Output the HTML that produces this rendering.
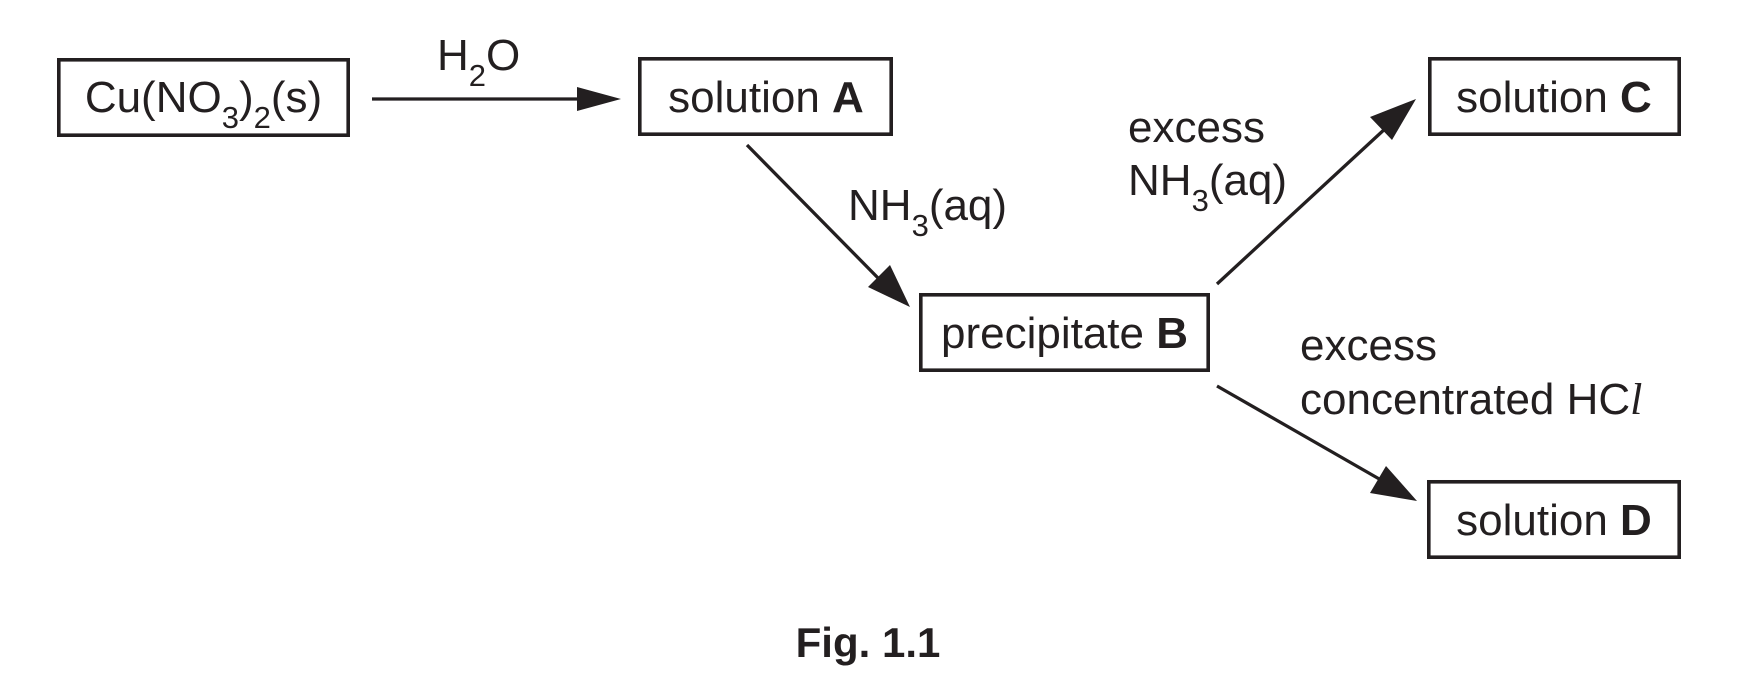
<!DOCTYPE html>
<html>
<head>
<meta charset="utf-8">
<style>
html,body{margin:0;padding:0;background:#fff;}
svg{display:block;}
text{font-family:"Liberation Sans",Arial,sans-serif;fill:#231f20;}
</style>
</head>
<body>
<svg width="1756" height="696" viewBox="0 0 1756 696" xmlns="http://www.w3.org/2000/svg">
<rect width="1756" height="696" fill="#fff"/>
<g fill="none" stroke="#231f20" stroke-width="3.6">
  <rect x="58.8" y="59.8" width="289.4" height="75.4"/>
  <rect x="639.8" y="58.8" width="251.4" height="75.4"/>
  <rect x="920.8" y="294.8" width="287.4" height="75.4"/>
  <rect x="1429.8" y="58.8" width="249.4" height="75.4"/>
  <rect x="1428.8" y="481.8" width="250.4" height="75.4"/>
</g>
<g stroke="#231f20" stroke-width="3.3" fill="none">
  <line x1="372" y1="99" x2="580" y2="99"/>
  <line x1="747" y1="145" x2="880" y2="280"/>
  <line x1="1217" y1="284" x2="1387" y2="127"/>
  <line x1="1217" y1="386" x2="1381" y2="480"/>
</g>
<g fill="#231f20">
  <polygon points="621,99 577,87 577,111"/>
  <polygon points="910,307 868,287 890,265"/>
  <polygon points="1416,99 1392,140 1370,117"/>
  <polygon points="1417,501 1370,493 1386,466"/>
</g>
<g font-size="44">
  <text x="203.5" y="112" text-anchor="middle">Cu(NO<tspan font-size="31" dy="16">3</tspan><tspan dy="-16">)</tspan><tspan font-size="31" dy="16">2</tspan><tspan dy="-16">(s)</tspan></text>
  <text x="437" y="70">H<tspan font-size="31" dy="16">2</tspan><tspan dy="-16">O</tspan></text>
  <text x="766" y="112" text-anchor="middle">solution <tspan font-weight="bold">A</tspan></text>
  <text x="848" y="220">NH<tspan font-size="31" dy="16">3</tspan><tspan dy="-16">(aq)</tspan></text>
  <text x="1064.5" y="348" text-anchor="middle">precipitate <tspan font-weight="bold">B</tspan></text>
  <text x="1128" y="142">excess</text>
  <text x="1128" y="195">NH<tspan font-size="31" dy="16">3</tspan><tspan dy="-16">(aq)</tspan></text>
  <text x="1554" y="112" text-anchor="middle">solution <tspan font-weight="bold">C</tspan></text>
  <text x="1300" y="360">excess</text>
  <text x="1300" y="414">concentrated HC<tspan font-family="Liberation Serif, serif" font-style="italic">l</tspan></text>
  <text x="1554" y="535" text-anchor="middle">solution <tspan font-weight="bold">D</tspan></text>
  <text x="868" y="657" text-anchor="middle" font-weight="bold" font-size="42">Fig. 1.1</text>
</g>
</svg>
</body>
</html>
